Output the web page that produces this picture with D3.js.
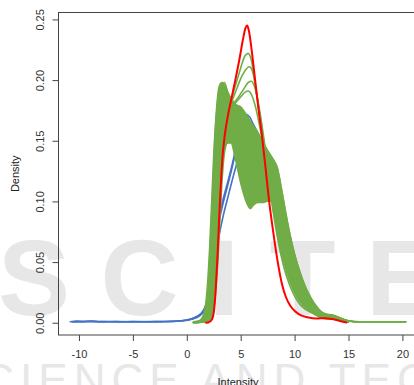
<!DOCTYPE html>
<html>
<head>
<meta charset="utf-8">
<script src="https://cdn.jsdelivr.net/npm/d3@7"></script>
<style>
  html, body { margin: 0; padding: 0; background: #fff; }
  svg { display: block; font-family: "Liberation Sans", Arial, sans-serif; }
</style>
</head>
<body>
<svg id="chart" width="414" height="385"></svg>
<script>
// Axis ticks
const xTicks = [-10, -5, 0, 5, 10, 15, 20];
const xTickLabels = ["-10", "-5", "0", "5", "10", "15", "20"];
const yTicks = [0, 0.05, 0.10, 0.15, 0.20, 0.25];
const yTickLabels = ["0.00", "0.05", "0.10", "0.15", "0.20", "0.25"];

// Reference density (red)
const redCurve = [[1.8,0],[2.1,0.0008],[2.35,0.003],[2.55,0.012],[2.7,0.03],[2.85,0.055],[3.0,0.085],
  [3.15,0.113],[3.3,0.135],[3.5,0.153],[3.8,0.17],[4.1,0.183],[4.5,0.2],[4.9,0.218],[5.2,0.233],
  [5.45,0.243],[5.6,0.245],[5.75,0.241],[6.0,0.226],[6.3,0.203],[6.6,0.18],[7.0,0.152],[7.3,0.128],
  [7.6,0.103],[8.0,0.076],[8.4,0.052],[8.8,0.033],[9.2,0.021],[9.6,0.014],[10.1,0.009],[10.6,0.006],
  [11.2,0.0045],[12.0,0.0035],[12.8,0.0038],[13.5,0.003],[14.2,0.0015],[14.8,0.0002]];

// Blue densities
const blueA = [[-10.8,0.0008],[-10.2,0.0013],[-9.6,0.0009],[-8.8,0.0013],[-8.0,0.0009],[-7.0,0.0008],
  [-6.0,0.0008],[-5.0,0.0009],[-4.0,0.0008],[-3.0,0.0009],[-2.0,0.001],[-1.0,0.0012],[-0.3,0.0018],
  [0.3,0.0028],[0.8,0.0045],[1.3,0.0075],[1.7,0.013],[2.0,0.022],[2.2,0.037],[2.4,0.052],[2.7,0.072],
  [3.0,0.088],[3.4,0.103],[3.8,0.116],[4.2,0.13],[4.6,0.146],[5.0,0.162],[5.4,0.172],[5.8,0.17],
  [6.2,0.163],[6.7,0.154],[7.0,0.145],[7.5,0.126],[8.0,0.104],[8.5,0.082],[9.0,0.062],[9.5,0.046],
  [10.0,0.033],[10.5,0.023],[11.0,0.016],[11.5,0.011],[12.0,0.008],[12.5,0.0065],[13.0,0.0055],
  [13.5,0.005],[14.0,0.003],[14.5,0.0015],[15.0,0.0008]];
const blueB = [[-10.6,0.0007],[-9.8,0.0009],[-9.0,0.0012],[-8.0,0.0008],[-6.5,0.0009],[-5.0,0.0008],
  [-3.5,0.0009],[-2.0,0.001],[-1.0,0.0013],[-0.2,0.002],[0.4,0.003],[0.9,0.005],[1.4,0.008],
  [1.8,0.015],[2.1,0.026],[2.35,0.042],[2.6,0.06],[2.9,0.079],[3.3,0.096],[3.7,0.11],[4.1,0.124],
  [4.5,0.139],[4.9,0.152],[5.3,0.162],[5.7,0.166],[6.1,0.163],[6.5,0.156],[7.0,0.142],[7.5,0.124],
  [8.0,0.104],[8.5,0.083],[9.0,0.064],[9.5,0.048],[10.0,0.035],[10.5,0.025],[11.0,0.017],[11.5,0.012],
  [12.0,0.009],[12.5,0.007],[13.0,0.006],[13.5,0.005],[14.0,0.0035],[14.5,0.0018],[15.0,0.0008]];
const blueC = [[-10.4,0.0008],[-9.4,0.001],[-8.4,0.0008],[-7.2,0.001],[-6.0,0.0008],[-4.5,0.0009],
  [-3.0,0.0008],[-1.5,0.001],[-0.5,0.0014],[0.2,0.0022],[0.8,0.0038],[1.3,0.0065],[1.8,0.012],
  [2.1,0.022],[2.4,0.038],[2.7,0.056],[3.0,0.072],[3.4,0.089],[3.8,0.103],[4.2,0.117],[4.6,0.13],
  [5.0,0.142],[5.5,0.153],[5.9,0.158],[6.3,0.157],[6.8,0.15],[7.3,0.136],[7.8,0.118],[8.3,0.098],
  [8.8,0.078],[9.3,0.06],[9.8,0.045],[10.3,0.033],[10.8,0.023],[11.3,0.016],[11.8,0.011],[12.4,0.008],
  [13.0,0.0065],[13.5,0.0055],[14.0,0.004],[14.5,0.002],[15.0,0.0009]];

// Green densities: dense envelope of the bulk of curves
const greenBandX = [0.6,1.2,1.6,1.9,2.1,2.3,2.5,2.7,2.9,3.1,3.3,3.5,3.8,4.1,4.5,5.0,5.5,5.9,6.2,6.6,
  7.0,7.5,8.0,8.4,8.8,9.2,9.6,10.0,10.5,11.0,11.5,12.0,12.5,13.0,13.5,14.0,14.5,15.0];
const greenBandHigh = [0.0008,0.002,0.008,0.03,0.06,0.10,0.14,0.17,0.19,0.197,0.198,0.196,0.19,0.185,
  0.18,0.178,0.172,0.166,0.162,0.157,0.15,0.142,0.135,0.128,0.11,0.09,0.072,0.057,0.042,0.03,0.021,
  0.014,0.009,0.007,0.0065,0.005,0.003,0.0015];
const greenBandLow = [0.0002,0.0003,0.0005,0.001,0.002,0.004,0.01,0.027,0.052,0.088,0.12,0.14,0.148,
  0.148,0.135,0.115,0.1,0.094,0.097,0.099,0.099,0.1,0.1,0.08,0.062,0.047,0.036,0.027,0.019,0.013,
  0.009,0.006,0.004,0.003,0.003,0.002,0.001,0.0005];

// Green densities: individual curves standing out of the bulk
const greenA = [[0.6,0],[1.6,0.001],[2.1,0.01],[2.5,0.05],[2.9,0.11],[3.3,0.15],[3.7,0.17],[4.1,0.183],
  [4.6,0.198],[5.0,0.21],[5.4,0.22],[5.7,0.222],[6.0,0.216],[6.3,0.2],[6.7,0.174],[7.1,0.148],
  [7.5,0.122],[8.0,0.092],[8.5,0.066],[9.0,0.046],[9.5,0.032],[10.0,0.022],[10.5,0.015],[11.0,0.011],
  [12.0,0.007],[13.0,0.0055],[14.0,0.004],[15.0,0.0015],[16.0,0.0008],[20.3,0.0008]];
const greenB = [[0.7,0],[1.7,0.001],[2.2,0.012],[2.6,0.055],[3.0,0.115],[3.4,0.152],[3.8,0.17],
  [4.1,0.18],[4.6,0.192],[5.1,0.203],[5.5,0.209],[5.8,0.211],[6.1,0.207],[6.4,0.193],[6.8,0.17],
  [7.2,0.145],[7.6,0.12],[8.1,0.09],[8.6,0.065],[9.1,0.047],[9.6,0.033],[10.1,0.023],[10.6,0.016],
  [11.2,0.011],[12.2,0.007],[13.2,0.0055],[14.2,0.0038],[15.0,0.0015],[16.0,0.0008],[20.3,0.0008]];
const greenC = [[0.8,0],[1.8,0.001],[2.3,0.015],[2.7,0.06],[3.1,0.12],[3.5,0.155],[3.9,0.172],
  [4.3,0.18],[4.8,0.186],[5.3,0.193],[5.7,0.198],[6.0,0.199],[6.3,0.194],[6.7,0.178],[7.1,0.155],
  [7.5,0.13],[8.0,0.1],[8.5,0.072],[9.0,0.052],[9.5,0.037],[10.0,0.026],[10.5,0.018],[11.0,0.013],
  [12.0,0.008],[13.0,0.006],[14.0,0.0042],[15.0,0.0016],[16.0,0.0008],[20.3,0.0008]];
const greenD = [[0.9,0],[1.9,0.002],[2.4,0.02],[2.8,0.07],[3.2,0.128],[3.6,0.16],[4.0,0.174],
  [4.5,0.181],[5.0,0.186],[5.4,0.19],[5.7,0.191],[6.0,0.188],[6.4,0.177],[6.8,0.16],[7.2,0.14],
  [7.7,0.113],[8.2,0.085],[8.7,0.062],[9.2,0.045],[9.7,0.032],[10.2,0.023],[10.8,0.016],[11.5,0.011],
  [12.5,0.007],[13.5,0.0055],[14.3,0.0035],[15.0,0.0015],[16.0,0.0008],[20.3,0.0008]];
const greenE = [[0.6,0],[1.5,0.001],[2.0,0.02],[2.3,0.08],[2.6,0.15],[2.9,0.185],[3.2,0.196],
  [3.5,0.198],[3.8,0.19],[4.3,0.182],[5.0,0.176],[5.6,0.168],[6.2,0.161],[6.8,0.153],[7.4,0.143],
  [8.0,0.134],[8.4,0.127],[8.8,0.109],[9.2,0.089],[9.6,0.071],[10.0,0.056],[10.5,0.041],[11.0,0.029],
  [11.5,0.02],[12.0,0.013],[12.5,0.0088],[13.0,0.0068],[13.5,0.0064],[14.0,0.0048],[14.5,0.0028],
  [15.0,0.0014],[16.0,0.0008],[20.3,0.0008]];

const svg = d3.select("#chart");

// Plot region
const plotLeft = 58.5, plotRight = 417.5, plotTop = 12.5, plotBottom = 335;
const x = d3.scaleLinear().domain([-11.9, 21.4]).range([plotLeft, plotRight]);
const y = d3.scaleLinear().domain([-0.0101, 0.2557]).range([plotBottom, plotTop]);

// Publisher watermark in the background
const wm = svg.append("g").attr("fill", "#e7e7e7").attr("font-family", "\"Liberation Sans\", Arial, sans-serif");
wm.append("text").attr("x", -2).attr("y", 315).attr("font-size", 108).attr("font-weight", "bold")
  .attr("textLength", 440).attr("lengthAdjust", "spacing").text("SCITE");
wm.append("text").attr("x", -53).attr("y", 394.5).attr("font-size", 44)
  .attr("letter-spacing", 6).text("SCIENCE AND TECHNOLOGY");

// Curves
const line = d3.line().x(d => x(d[0])).y(d => y(d[1])).curve(d3.curveMonotoneX);
const blue = "#4472C4", green = "#70AD47", red = "#FF0000";

const curves = svg.append("g").attr("fill", "none").attr("stroke-linejoin", "round").attr("stroke-linecap", "round");

[blueA, blueB, blueC].forEach(c => {
  curves.append("path").datum(c).attr("d", line).attr("stroke", blue).attr("stroke-width", 1.6);
});

const band = greenBandX.map((gx, i) => ({ x: gx, lo: greenBandLow[i], hi: greenBandHigh[i] }));
const area = d3.area().x(d => x(d.x)).y0(d => y(d.lo)).y1(d => y(d.hi)).curve(d3.curveMonotoneX);
curves.append("path").datum(band).attr("d", area)
  .attr("fill", green).attr("stroke", green).attr("stroke-width", 1.4);

[greenE, greenD, greenC, greenB, greenA].forEach(c => {
  curves.append("path").datum(c).attr("d", line).attr("stroke", green).attr("stroke-width", 1.6);
});

curves.append("path").datum(redCurve).attr("d", line).attr("stroke", red).attr("stroke-width", 2);

// Frame
svg.append("rect").attr("x", plotLeft).attr("y", plotTop)
  .attr("width", plotRight - plotLeft).attr("height", plotBottom - plotTop)
  .attr("fill", "none").attr("stroke", "#444").attr("stroke-width", 1);

// Axes
const xAxis = svg.append("g").attr("transform", `translate(0,${plotBottom})`)
  .call(d3.axisBottom(x).tickValues(xTicks).tickFormat((d, i) => xTickLabels[i]).tickSize(6).tickSizeOuter(0));
xAxis.select(".domain").remove();
xAxis.selectAll(".tick line").attr("stroke", "#444");
xAxis.selectAll(".tick text").attr("y", 23).attr("dy", 0)
  .attr("font-size", 11).attr("fill", "#333").attr("font-family", "\"Liberation Sans\", Arial, sans-serif");

const yAxis = svg.append("g").attr("transform", `translate(${plotLeft},0)`)
  .call(d3.axisLeft(y).tickValues(yTicks).tickFormat((d, i) => yTickLabels[i]).tickSize(6).tickSizeOuter(0));
yAxis.select(".domain").remove();
yAxis.selectAll(".tick line").attr("stroke", "#444");
yAxis.selectAll(".tick text").attr("x", 0).attr("y", -15).attr("dy", 0)
  .attr("text-anchor", "middle").attr("transform", "rotate(-90)")
  .attr("font-size", 11).attr("fill", "#333").attr("font-family", "\"Liberation Sans\", Arial, sans-serif");

// Axis titles
svg.append("text").attr("x", (plotLeft + plotRight) / 2).attr("y", 385.5).attr("text-anchor", "middle")
  .attr("font-size", 11).attr("fill", "#222").text("Intensity");
svg.append("text").attr("transform", `translate(19,${(plotTop + plotBottom) / 2}) rotate(-90)`)
  .attr("text-anchor", "middle").attr("font-size", 11).attr("fill", "#222").text("Density");
</script>
</body>
</html>
